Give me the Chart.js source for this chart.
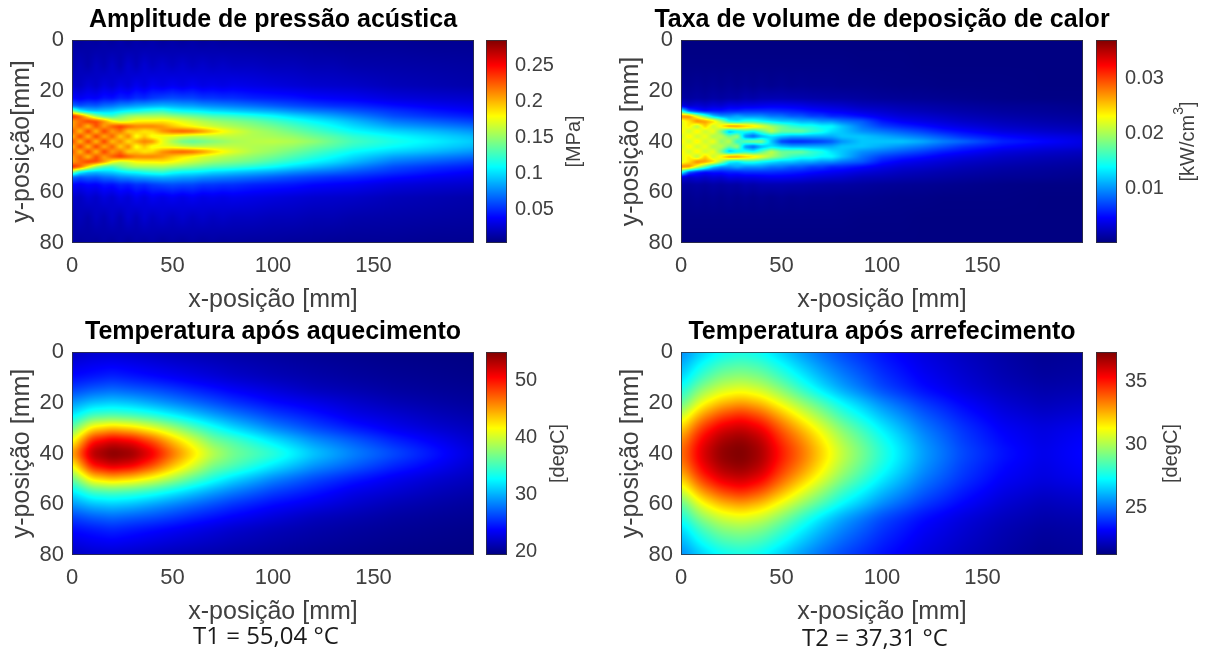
<!DOCTYPE html>
<html>
<head>
<meta charset="utf-8">
<script src="https://cdn.jsdelivr.net/npm/chart.js@4"></script>
<style>
  body { margin: 0; background: #fff; }
  #page { position: relative; width: 1207px; height: 650px; overflow: hidden; }
  canvas { position: absolute; }
  .note { position: absolute; font: 24px "Open Sans", sans-serif; color: #1a1a1a; white-space: nowrap; }
</style>
</head>
<body>
<div id="page">
  <canvas id="p1" width="546" height="323" style="left:0;top:0"></canvas>
  <canvas id="c1" width="120" height="323" style="left:486px;top:0"></canvas>
  <canvas id="p2" width="546" height="323" style="left:609px;top:0"></canvas>
  <canvas id="c2" width="110" height="323" style="left:1096px;top:0"></canvas>
  <canvas id="p3" width="546" height="323" style="left:0;top:312px"></canvas>
  <canvas id="c3" width="120" height="323" style="left:486px;top:312px"></canvas>
  <canvas id="p4" width="546" height="323" style="left:609px;top:312px"></canvas>
  <canvas id="c4" width="110" height="323" style="left:1096px;top:312px"></canvas>
  <div class="note" style="left:193px;top:618px">T1 = 55,04 °C</div>
  <div class="note" style="left:802px;top:620px">T2 = 37,31 °C</div>
</div>
<script>
// grid positions in mm
var beamX = [0,4,8,12,16,20,24,28,32,36,40,45,50,55,60,65,70,75,80,90,100,110,120,130,140,160,180,200];
var beamY = [0,10,18,23,26,28,30,32,34,36,38,40,42,44,46,48,50,52,54,57,62,70,80];
var tempX = [0,10,20,30,40,50,60,70,80,100,120,140,160,180,200];
var tempY = [0,10,15,20,25,30,35,40,45,50,55,60,65,70,80];

var xTicks = [0,50,100,150];
var yTicks = [0,20,40,60,80];

// pressure amplitude, kPa
var pressure = [
  [15,12,14,12,15,12,16,12,16,13,16,12,15,12,15,12,14,12,13,12,12,11,11,10,10,10,9,9],
  [16,20,16,22,18,24,18,26,20,27,22,26,22,26,22,25,22,24,22,22,20,20,18,18,16,15,14,13],
  [25,22,28,24,30,26,32,28,35,30,36,32,36,32,36,32,34,32,34,32,30,28,26,25,24,20,18,16],
  [40,36,40,38,44,42,48,46,52,50,55,58,60,58,58,54,54,52,52,48,46,44,40,38,36,30,27,25],
  [70,62,66,64,70,72,78,80,84,86,88,90,88,85,84,80,78,76,74,70,65,60,56,52,50,42,36,32],
  [150,110,95,92,95,98,104,110,112,118,122,125,115,110,108,105,100,98,95,90,85,78,72,68,62,52,44,38],
  [245,225,185,150,130,125,140,150,155,155,155,155,150,145,140,135,130,128,125,118,110,100,92,84,76,60,52,46],
  [205,220,235,230,210,180,165,170,180,182,182,185,180,172,165,158,152,148,145,138,128,118,108,100,90,72,64,56],
  [205,225,195,230,205,225,235,225,215,215,215,208,195,185,178,170,165,160,156,148,140,130,120,110,100,84,76,68],
  [230,195,235,195,235,205,220,190,195,185,190,210,222,226,222,210,195,182,172,158,150,140,130,120,110,98,90,80],
  [195,235,195,235,200,225,190,215,175,195,175,175,172,165,160,160,162,162,162,158,155,150,140,132,122,110,100,90],
  [235,195,235,195,235,195,215,185,205,215,210,175,155,140,135,140,145,150,155,160,162,158,150,138,128,116,106,95],
  [195,235,195,235,200,225,190,215,175,195,175,175,172,165,160,160,162,162,162,158,155,150,140,132,122,110,100,90],
  [230,195,235,195,235,205,220,190,195,185,190,210,222,226,222,210,195,182,172,158,150,140,130,120,110,98,90,80],
  [205,225,195,230,205,225,235,225,215,215,215,208,195,185,178,170,165,160,156,148,140,130,120,110,100,84,76,68],
  [205,220,235,230,210,180,165,170,180,182,182,185,180,172,165,158,152,148,145,138,128,118,108,100,90,72,64,56],
  [245,225,185,150,130,125,140,150,155,155,155,155,150,145,140,135,130,128,125,118,110,100,92,84,76,60,52,46],
  [150,110,95,92,95,98,104,110,112,118,122,125,115,110,108,105,100,98,95,90,85,78,72,68,62,52,44,38],
  [70,62,66,64,70,72,78,80,84,86,88,90,88,85,84,80,78,76,74,70,65,60,56,52,50,42,36,32],
  [40,36,40,38,44,42,48,46,52,50,55,58,60,58,58,54,54,52,52,48,46,44,40,38,36,30,27,25],
  [25,22,28,24,30,26,32,28,35,30,36,32,36,32,36,32,34,32,34,32,30,28,26,25,24,20,18,16],
  [16,20,16,22,18,24,18,26,20,27,22,26,22,26,22,25,22,24,22,22,20,20,18,18,16,15,14,13],
  [15,12,14,12,15,12,16,12,16,13,16,12,15,12,15,12,14,12,13,12,12,11,11,10,10,10,9,9]
];

// heat deposition rate, W/cm3
var heatRate = [
  [.3,.3,.3,.3,.3,.3,.3,.3,.3,.3,.3,.3,.3,.3,.3,.3,.3,.3,.3,.3,.3,.3,.3,.3,.3,.3,.3,.3],
  [.5,.5,.5,.5,.5,.5,.5,.5,.5,.5,.5,.5,.5,.5,.5,.5,.5,.5,.5,.4,.4,.4,.3,.3,.3,.3,.3,.3],
  [1,.8,1,.8,1,.8,1,.8,1,.8,1,.8,1,.8,.9,.8,.8,.8,.7,.7,.6,.5,.5,.4,.4,.4,.3,.3],
  [1.5,1.3,1.5,1.3,1.6,1.4,1.6,1.5,1.9,1.7,2,2,2,1.9,1.8,1.7,1.6,1.5,1.5,1.3,1.1,1,.9,.8,.7,.5,.4,.4],
  [4,3,3.5,3,3.5,3.2,4,3.8,4,4,4.2,4.4,4.4,4.2,4,3.6,3.4,3.2,3,2.4,2.2,1.9,1.7,1.5,1.3,1,.9,.7],
  [16,8,6,5,5.5,5.5,6,6,6.5,6.5,6.5,6.5,6.2,6,5.6,5.2,4.8,4.5,4.2,3.5,3,2.5,2.2,1.9,1.7,1.3,1.1,.9],
  [28,28,22,17,12,10,10,11,10,10,10,9,9,8,8,7,7,6,6,5,4,3.3,3,2.6,2.2,1.7,1.4,1.2],
  [22,24,28,27,25,20,14,13,15,15,14,13,12,12,11,11,10,10,9,8,5.5,4.4,3.8,3.3,2.8,2.2,1.8,1.5],
  [22,24,20,25,21,24,28,28,26,25,23,20,18,16,15,15,14,14,12,9,7,6,5.2,4.3,3.7,2.8,2.3,2],
  [24,21,24,21,23,18,11,13,15,14,17,21,18,18,18,16,15,13,12,10,9,8,7,5.8,5,3.6,3,2.5],
  [21,24,21,23,20,21,18,20,10,8,11,13,12,11,11,11,11,11,12,12,11,10,9,7.8,6.5,5,4,3.5],
  [24,21,24,21,23,19,21,15,18,19,19,12,7,6,6,6.5,7,8,10,12,12,12,11,9.5,8.5,6,5,3.8],
  [21,24,21,23,20,21,18,20,10,8,11,13,12,11,11,11,11,11,12,12,11,10,9,7.8,6.5,5,4,3.5],
  [24,21,24,21,23,18,11,13,15,14,17,21,18,18,18,16,15,13,12,10,9,8,7,5.8,5,3.6,3,2.5],
  [22,24,20,25,21,24,28,28,26,25,23,20,18,16,15,15,14,14,12,9,7,6,5.2,4.3,3.7,2.8,2.3,2],
  [22,24,28,27,25,20,14,13,15,15,14,13,12,12,11,11,10,10,9,8,5.5,4.4,3.8,3.3,2.8,2.2,1.8,1.5],
  [28,28,22,17,12,10,10,11,10,10,10,9,9,8,8,7,7,6,6,5,4,3.3,3,2.6,2.2,1.7,1.4,1.2],
  [16,8,6,5,5.5,5.5,6,6,6.5,6.5,6.5,6.5,6.2,6,5.6,5.2,4.8,4.5,4.2,3.5,3,2.5,2.2,1.9,1.7,1.3,1.1,.9],
  [4,3,3.5,3,3.5,3.2,4,3.8,4,4,4.2,4.4,4.4,4.2,4,3.6,3.4,3.2,3,2.4,2.2,1.9,1.7,1.5,1.3,1,.9,.7],
  [1.5,1.3,1.5,1.3,1.6,1.4,1.6,1.5,1.9,1.7,2,2,2,1.9,1.8,1.7,1.6,1.5,1.5,1.3,1.1,1,.9,.8,.7,.5,.4,.4],
  [1,.8,1,.8,1,.8,1,.8,1,.8,1,.8,1,.8,.9,.8,.8,.8,.7,.7,.6,.5,.5,.4,.4,.4,.3,.3],
  [.5,.5,.5,.5,.5,.5,.5,.5,.5,.5,.5,.5,.5,.5,.5,.5,.5,.5,.5,.4,.4,.4,.3,.3,.3,.3,.3,.3],
  [.3,.3,.3,.3,.3,.3,.3,.3,.3,.3,.3,.3,.3,.3,.3,.3,.3,.3,.3,.3,.3,.3,.3,.3,.3,.3,.3,.3]
];

// temperature after heating, deg C
var tempHeated = [
  [21.5,22,22,21.8,21.5,21.2,21,20.8,20.6,20.3,20,19.8,19.6,19.5,19.4],
  [24,24.5,25,24.5,24,23.5,23,22.5,22,21.3,20.8,20.4,20.1,19.9,19.7],
  [26,27,27.5,27,26.5,25.8,25,24.3,23.6,22.5,21.5,21,20.5,20.2,20],
  [29,30.5,31,30.5,29.5,28.5,27.5,26.5,25.5,24,23,22,21.2,20.7,20.3],
  [32,35,35.5,35,34,32.5,31,29.5,28.2,26,24.5,23,22.2,21.4,20.8],
  [36,42.5,44,43,41,38.5,35.8,33.5,31.5,28.5,26.3,24.6,23.2,22.2,21.4],
  [41,50,52,51,48,44,40.5,37,35.5,32,29,27,25,23.5,22],
  [45,53.5,55.3,54.5,51.5,47,43,39.5,37,34.5,31,28.5,26.5,24.5,22.5],
  [41,50,52,51,48,44,40.5,37,35.5,32,29,27,25,23.5,22],
  [36,42.5,44,43,41,38.5,35.8,33.5,31.5,28.5,26.3,24.6,23.2,22.2,21.4],
  [32,35,35.5,35,34,32.5,31,29.5,28.2,26,24.5,23,22.2,21.4,20.8],
  [29,30.5,31,30.5,29.5,28.5,27.5,26.5,25.5,24,23,22,21.2,20.7,20.3],
  [26,27,27.5,27,26.5,25.8,25,24.3,23.6,22.5,21.5,21,20.5,20.2,20],
  [24,24.5,25,24.5,24,23.5,23,22.5,22,21.3,20.8,20.4,20.1,19.9,19.7],
  [21.5,22,22,21.8,21.5,21.2,21,20.8,20.6,20.3,20,19.8,19.6,19.5,19.4]
];

// temperature after cooling, deg C
var tempCooled = [
  [25.3,26.4,27.2,27.5,27.2,26.4,25.6,24.9,24.3,23.4,22.7,22.2,21.8,21.5,21.6],
  [26.5,28.2,29.3,29.6,29.2,28.2,27.1,26.1,25.3,24,23.1,22.5,22,21.7,21.8],
  [27.5,29.5,30.6,31,30.5,29.4,28.1,26.9,25.9,24.4,23.4,22.7,22.2,21.9,22],
  [28.5,31,32.3,32.8,32.2,30.9,29.6,28.4,27.2,25.4,24.1,23.2,22.5,22.1,22.3],
  [30.2,32.8,34.2,34.8,34,32.5,31,29.6,28.2,26.2,24.7,23.6,22.8,22.4,22.6],
  [31.8,34.4,35.8,36.2,35.5,33.8,32.3,30.8,29.3,27,25.2,24,23.1,22.7,23],
  [33,35.4,36.7,37.1,36.4,34.6,33.2,31.6,30,27.6,25.6,24.2,23.3,22.8,23.2],
  [33.5,35.8,37.1,37.4,36.7,35,33.6,32,30.4,27.9,25.8,24.4,23.5,22.9,23.3],
  [33,35.4,36.7,37.1,36.4,34.6,33.2,31.6,30,27.6,25.6,24.2,23.3,22.8,23.2],
  [31.8,34.4,35.8,36.2,35.5,33.8,32.3,30.8,29.3,27,25.2,24,23.1,22.7,23],
  [30.2,32.8,34.2,34.8,34,32.5,31,29.6,28.2,26.2,24.7,23.6,22.8,22.4,22.6],
  [28.5,31,32.3,32.8,32.2,30.9,29.6,28.4,27.2,25.4,24.1,23.2,22.5,22.1,22.3],
  [27.5,29.5,30.6,31,30.5,29.4,28.1,26.9,25.9,24.4,23.4,22.7,22.2,21.9,22],
  [26.5,28.2,29.3,29.6,29.2,28.2,27.1,26.1,25.3,24,23.1,22.5,22,21.7,21.8],
  [25.3,26.4,27.2,27.5,27.2,26.4,25.6,24.9,24.3,23.4,22.7,22.2,21.8,21.5,21.6]
];

var fontName = '"Liberation Sans", Arial, sans-serif';
var grey = "#404040";

function jet(t) {
  function c(v) { return Math.round(255 * Math.max(0, Math.min(1, v))); }
  return [
    c(Math.min(4 * t - 1.5, -4 * t + 4.5)),
    c(Math.min(4 * t - 0.5, -4 * t + 3.5)),
    c(Math.min(4 * t + 0.5, -4 * t + 2.5))
  ];
}

// box blur with clamped edges, keeps the painted field as soft as the picture
function soften(field, w, h, radius) {
  if (!radius) return field;
  var out = new Float32Array(field.length);
  for (var j = 0; j < h; j++) {
    for (var i = 0; i < w; i++) {
      var sum = 0;
      for (var d = -radius; d <= radius; d++) {
        sum += field[j * w + Math.max(0, Math.min(w - 1, i + d))];
      }
      out[j * w + i] = sum / (2 * radius + 1);
    }
  }
  var res = new Float32Array(field.length);
  for (var j2 = 0; j2 < h; j2++) {
    for (var i2 = 0; i2 < w; i2++) {
      var s2 = 0;
      for (var d2 = -radius; d2 <= radius; d2++) {
        s2 += out[Math.max(0, Math.min(h - 1, j2 + d2)) * w + i2];
      }
      res[j2 * w + i2] = s2 / (2 * radius + 1);
    }
  }
  return res;
}

// paints the grid of dataset 0 between its nodes, node pixels come from the scales
var heatPlugin = {
  id: "heat",
  beforeDatasetsDraw: function(chart) {
    var ds = chart.data.datasets[0];
    var area = chart.chartArea;
    var px = ds.gridX.map(function(v) { return chart.scales.x.getPixelForValue(v); });
    var py = ds.gridY.map(function(v) { return chart.scales.y.getPixelForValue(v); });
    var w = Math.round(area.right - area.left), h = Math.round(area.bottom - area.top);
    var off = document.createElement("canvas");
    off.width = w; off.height = h;
    var octx = off.getContext("2d");
    var img = octx.createImageData(w, h);

    function locate(nodes, p) {
      var down = nodes[0] > nodes[nodes.length - 1];
      for (var i = 0; i < nodes.length - 2; i++) {
        if (down ? p >= nodes[i + 1] : p <= nodes[i + 1]) break;
      }
      var f = (p - nodes[i]) / (nodes[i + 1] - nodes[i]);
      return [i, Math.max(0, Math.min(1, f))];
    }

    var field = new Float32Array(w * h);
    for (var j = 0; j < h; j++) {
      var ly = locate(py, area.top + j + 0.5);
      for (var i = 0; i < w; i++) {
        var lx = locate(px, area.left + i + 0.5);
        var r0 = ds.gridV[ly[0]], r1 = ds.gridV[ly[0] + 1];
        var top = r0[lx[0]] * (1 - lx[1]) + r0[lx[0] + 1] * lx[1];
        var bot = r1[lx[0]] * (1 - lx[1]) + r1[lx[0] + 1] * lx[1];
        field[j * w + i] = top * (1 - ly[1]) + bot * ly[1];
      }
    }
    field = soften(field, w, h, ds.blur || 0);
    for (var k = 0; k < field.length; k++) {
      var col = jet((field[k] - ds.vMin) / (ds.vMax - ds.vMin));
      img.data[k * 4] = col[0]; img.data[k * 4 + 1] = col[1]; img.data[k * 4 + 2] = col[2]; img.data[k * 4 + 3] = 255;
    }
    octx.putImageData(img, 0, 0);
    chart.ctx.drawImage(off, area.left, area.top);
  },
  afterDraw: function(chart) {
    var a = chart.chartArea, ctx = chart.ctx;
    ctx.save();
    ctx.strokeStyle = "rgba(50,50,60,0.8)";
    ctx.lineWidth = 1;
    ctx.strokeRect(a.left + 0.5, a.top + 0.5, a.right - a.left - 1, a.bottom - a.top - 1);
    // colorbar label reads bottom to top, which the right axis title can't do
    var lab = chart.options.plugins.heat.label;
    if (lab) {
      ctx.translate(lab.x, (a.top + a.bottom) / 2 + lab.dy);
      ctx.rotate(-Math.PI / 2);
      ctx.fillStyle = grey;
      ctx.textBaseline = "middle";
      ctx.font = lab.size + "px " + fontName;
      var w1 = ctx.measureText(lab.head).width, w3 = ctx.measureText(lab.tail).width;
      ctx.font = (lab.size * 0.7) + "px " + fontName;
      var w2 = lab.sup ? ctx.measureText(lab.sup).width : 0;
      var x0 = -(w1 + w2 + w3) / 2;
      ctx.font = lab.size + "px " + fontName;
      ctx.fillText(lab.head, x0, 0);
      ctx.fillText(lab.tail, x0 + w1 + w2, 0);
      if (lab.sup) {
        ctx.font = (lab.size * 0.7) + "px " + fontName;
        ctx.fillText(lab.sup, x0 + w1, -lab.size * 0.45);
      }
    }
    ctx.restore();
  }
};

function cells(gx, gy, gv) {
  var out = [];
  gy.forEach(function(y, r) {
    gx.forEach(function(x, c) { out.push({ x: x, y: y, v: gv[r][c] }); });
  });
  return out;
}

function fixedTicks(list) {
  return function(scale) { scale.ticks = list.map(function(v) { return { value: v }; }); };
}

function drawPanel(id, title, yLabel, gx, gy, gv, vMin, vMax, blur) {
  new Chart(document.getElementById(id), {
    type: "scatter",
    data: { datasets: [{ data: cells(gx, gy, gv), pointRadius: 0, gridX: gx, gridY: gy, gridV: gv, vMin: vMin, vMax: vMax, blur: blur }] },
    plugins: [heatPlugin],
    options: {
      responsive: false,
      animation: false,
      layout: { autoPadding: false, padding: 0 },
      plugins: {
        legend: { display: false },
        tooltip: { enabled: false },
        heat: {},
        title: {
          display: true, text: title, color: "#000",
          font: { family: fontName, size: 25, weight: "bold", lineHeight: 1.2 },
          padding: { top: 5, bottom: 5 }
        }
      },
      scales: {
        x: {
          type: "linear", min: 0, max: 200,
          grid: { display: false }, border: { display: false },
          afterBuildTicks: fixedTicks(xTicks),
          afterFit: function(s) { s.height = 80; },
          ticks: { color: grey, font: { family: fontName, size: 22 }, padding: 2, maxRotation: 0 },
          title: { display: true, text: "x-posição [mm]", color: grey, font: { family: fontName, size: 25 }, padding: { top: 0, bottom: 8 } }
        },
        y: {
          type: "linear", min: 0, max: 80, reverse: true,
          grid: { display: false }, border: { display: false },
          afterBuildTicks: fixedTicks(yTicks),
          afterFit: function(s) { s.width = 72; },
          ticks: { color: grey, font: { family: fontName, size: 22 }, padding: 0 },
          title: { display: true, text: yLabel, color: grey, font: { family: fontName, size: 25 }, padding: { top: 7, bottom: 0 } }
        },
        // empty axis on the right keeps the full width title centred over the plot
        rightGap: {
          type: "linear", position: "right",
          grid: { display: false }, border: { display: false },
          ticks: { display: false },
          afterFit: function(s) { s.width = 72; }
        }
      }
    }
  });
}

function drawColorbar(id, vMin, vMax, ticks, label) {
  var gy = [vMin, vMax];
  var gx = [0, 1];
  var gv = [[vMin, vMin], [vMax, vMax]];
  new Chart(document.getElementById(id), {
    type: "scatter",
    data: { datasets: [{ data: cells(gx, gy, gv), pointRadius: 0, gridX: gx, gridY: gy, gridV: gv, vMin: vMin, vMax: vMax }] },
    plugins: [heatPlugin],
    options: {
      responsive: false,
      animation: false,
      layout: { autoPadding: false, padding: { top: 40, bottom: 80 } },
      plugins: { legend: { display: false }, tooltip: { enabled: false }, heat: { label: label } },
      scales: {
        x: { type: "linear", min: 0, max: 1, display: false },
        y: {
          type: "linear", position: "right", min: vMin, max: vMax,
          grid: { display: false }, border: { display: false },
          afterBuildTicks: fixedTicks(ticks),
          afterFit: function(s) { s.width = s.chart.width - 21; },
          ticks: {
            color: grey, font: { family: fontName, size: 20 }, padding: 0,
            callback: function(v) { return String(v); }
          }
        }
      }
    }
  });
}

document.addEventListener("DOMContentLoaded", function() {
  drawPanel("p1", "Amplitude de pressão acústica", "y-posição[mm]", beamX, beamY, pressure, 4, 285, 1);
  drawColorbar("c1", 0.004, 0.285, [0.05, 0.1, 0.15, 0.2, 0.25], { x: 88, dy: 0, size: 20, head: "[MPa]", tail: "" });

  drawPanel("p2", "Taxa de volume de deposição de calor", "y-posição [mm]", beamX, beamY, heatRate, 0.2, 37, 1);
  drawColorbar("c2", 0.0002, 0.037, [0.01, 0.02, 0.03], { x: 92, dy: 0, size: 20, head: "[kW/cm", sup: "3", tail: "]" });

  drawPanel("p3", "Temperatura após aquecimento", "y-posição [mm]", tempX, tempY, tempHeated, 19.3, 55.1, 5);
  drawColorbar("c3", 19.3, 55.1, [20, 30, 40, 50], { x: 72, dy: 0, size: 20, head: "[degC]", tail: "" });

  drawPanel("p4", "Temperatura após arrefecimento", "y-posição [mm]", tempX, tempY, tempCooled, 21.2, 37.3, 7);
  drawColorbar("c4", 21.2, 37.3, [25, 30, 35], { x: 75, dy: 0, size: 20, head: "[degC]", tail: "" });
});
</script>
</body>
</html>
